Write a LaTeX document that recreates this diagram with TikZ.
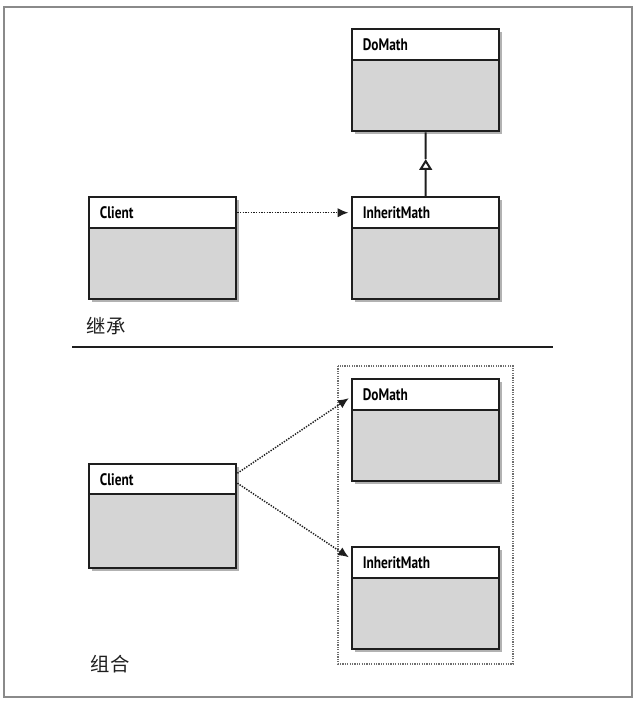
\documentclass[tikz,border=0pt]{standalone}
\usepackage{fontspec}
\newfontfamily\hdfont[FakeStretch=0.8]{PT Sans}
\newfontfamily\cjk{Noto Sans CJK SC}
\usetikzlibrary{calc,arrows.meta,shadows}
\definecolor{frame}{HTML}{8A8A8A}
\definecolor{ink}{HTML}{1E1E1E}
\definecolor{bodyfill}{HTML}{D5D5D5}
\definecolor{dotgray}{HTML}{6E6E6E}
\tikzset{
  cbody/.style={draw=ink, line width=1.8pt, fill=bodyfill, anchor=north west,
    minimum width=110.25pt, minimum height=76.5pt, inner sep=0pt,
    drop shadow={shadow xshift=1.8pt, shadow yshift=-1.8pt, opacity=0.3, fill=black}},
  chead/.style={draw=ink, line width=1.8pt, fill=white, anchor=north west,
    minimum width=110.25pt, minimum height=23.25pt, inner xsep=8pt, inner ysep=0pt,
    text width=94.25pt, align=left, font=\hdfont\bfseries\fontsize{12.5pt}{14pt}\selectfont},
  dep/.style={draw=ink, line width=1.1pt, dash pattern=on 1pt off 1pt,
    -{Latex[length=8pt,width=7pt]}, shorten >=2pt},
  gen/.style={draw=ink, line width=1.5pt, -{Triangle[open,length=8pt,width=9.5pt]}},
  plain/.style={draw=ink, line width=1.5pt},
  group/.style={draw=dotgray, line width=0.8pt, dash pattern=on 0.9pt off 0.9pt},
  cjklab/.style={text=ink, font=\cjk\fontsize{14.5pt}{16pt}\selectfont},
}
\begin{document}
\begin{tikzpicture}[x=0.75pt, y=-0.75pt]
  \useasboundingbox (0,0) rectangle (640,703);

  % outer frame
  \draw[frame, line width=1.6pt] (4,7) rectangle (632,697);

  % inheritance
  \node[cbody] (dm1) at (351,28) {};
  \node[chead] (dm1h) at (dm1.north west) {DoMath};
  \node[cbody] (inh1) at (351,196) {};
  \node[chead] (inh1h) at (inh1.north west) {InheritMath};
  \node[cbody] (cl1) at (88,196) {};
  \node[chead] (cl1h) at (cl1.north west) {Client};

  \coordinate (tri) at ($(inh1h.north)!0.58!(dm1.south)$);
  \draw[gen] (inh1h.north) -- (tri);
  \draw[plain] (tri) -- (dm1.south);
  \draw[dep] (cl1h.east) -- (inh1h.west);

  \node[cjklab] (inhlab) at (106,326) {继承};

  % separator
  \draw[ink, line width=1.6pt] (72,347) -- (553,347);

  % composition
  \draw[group] (338,366) rectangle (513,664);
  \node[cbody] (dm2) at (351,378) {};
  \node[chead] (dm2h) at (dm2.north west) {DoMath};
  \node[cbody] (inh2) at (351,546) {};
  \node[chead] (inh2h) at (inh2.north west) {InheritMath};
  \node[cbody, minimum height=78pt] (cl2) at (88,463) {};
  \node[chead, minimum height=22.5pt] (cl2h) at (cl2.north west) {Client};

  \draw[dep] ([yshift=4.5pt]cl2h.east) -- ([yshift=-1.5pt]dm2h.west);
  \draw[dep] ([yshift=-3pt]cl2h.east) -- ([yshift=3pt]inh2h.west);

  \node[cjklab] (comlab) at (110,664) {组合};
\end{tikzpicture}
\end{document}
